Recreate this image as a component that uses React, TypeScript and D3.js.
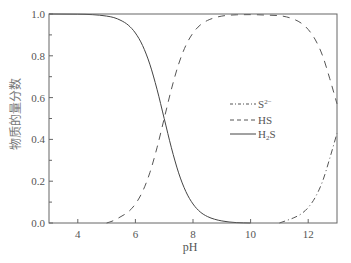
import React from "react";
import * as d3 from "d3";

const pH = [3, 4, 4.5, 5, 5.25, 5.5, 5.75, 6, 6.25, 6.5, 6.75, 7, 7.25, 7.5, 7.75, 8, 8.25, 8.5, 8.75, 9, 9.5, 10, 10.5, 11, 11.25, 11.5, 11.75, 12, 12.25, 12.5, 12.75, 13];
const h2s = [1.0, 0.999, 0.997, 0.99, 0.983, 0.969, 0.947, 0.909, 0.849, 0.76, 0.64, 0.5, 0.36, 0.24, 0.151, 0.091, 0.053, 0.031, 0.018, 0.01, 0.002, 0, null, null, null, null, null, null, null, null, null, null];
const hs = [null, null, null, 0, 0.012, 0.031, 0.053, 0.091, 0.151, 0.24, 0.36, 0.5, 0.64, 0.76, 0.849, 0.909, 0.947, 0.969, 0.982, 0.99, 0.996, 0.997, 0.995, 0.992, 0.986, 0.975, 0.957, 0.926, 0.876, 0.8, 0.69, 0.57];
const s2 = [null, null, null, null, null, null, null, null, null, null, null, null, null, null, null, null, null, null, null, null, null, null, null, 0, 0.012, 0.025, 0.043, 0.074, 0.124, 0.2, 0.31, 0.43];
const xTicks = [4, 6, 8, 10, 12];
const yTicks = [0, 0.2, 0.4, 0.6, 0.8, 1.0];
const yMinor = [0.1, 0.3, 0.5, 0.7, 0.9];

export default function App() {
  const W = 351, H = 263;
  const L = 49, R = 337, T = 14, B = 223;
  const x = d3.scaleLinear().domain([3, 13]).range([L, R]);
  const y = d3.scaleLinear().domain([0, 1]).range([B, T]);
  const mk = (vals: (number | null)[]) =>
    d3.line<number | null>()
      .defined((v) => v !== null)
      .x((_, i) => x(pH[i]))
      .y((v) => y(v as number))
      .curve(d3.curveMonotoneX)(vals) || "";
  const font = "'Liberation Serif', 'DejaVu Serif', serif";
  const ax = "#666";
  return (
    <svg width={W} height={H} style={{ position: "absolute", left: 0, top: 0, background: "#fff" }}>
      <g fill="none" strokeWidth={1}>
        <path d={mk(h2s)} stroke="#444" />
        <path d={mk(hs)} stroke="#555" strokeDasharray="7,6" />
        <path d={mk(s2)} stroke="#555" strokeDasharray="6,3,1,3" />
      </g>
      <rect x={L} y={T} width={R - L} height={B - T} fill="none" stroke={ax} strokeWidth={1} />
      {xTicks.map((t) => (
        <g key={"x" + t}>
          <line x1={x(t)} x2={x(t)} y1={B} y2={B - 4} stroke={ax} />
          <text x={x(t)} y={238} textAnchor="middle" fontFamily={font} fontSize={11} fill="#555">{t}</text>
        </g>
      ))}
      {yTicks.map((t) => (
        <g key={"y" + t}>
          <line x1={L} x2={L + 4} y1={y(t)} y2={y(t)} stroke={ax} />
          <text x={45} y={y(t) + 4} textAnchor="end" fontFamily={font} fontSize={11} fill="#555">{t.toFixed(1)}</text>
        </g>
      ))}
      {yMinor.map((t) => (
        <line key={"m" + t} x1={L} x2={L + 3} y1={y(t)} y2={y(t)} stroke={ax} />
      ))}
      <text x={190} y={251} textAnchor="middle" fontFamily={font} fontSize={12} fill="#555">pH</text>
      <text transform="translate(20,114) rotate(-90)" textAnchor="middle" fontFamily="'Noto Sans CJK SC', sans-serif" fontSize={12} fill="#777">物质的量分数</text>
      <g fontFamily={font} fontSize={11} fill="#555">
        <line x1={230} x2={256} y1={104} y2={104} stroke="#555" strokeDasharray="3,2,1,2" />
        <text x={258} y={108}>S<tspan fontSize={7} dy={-4}>2−</tspan></text>
        <line x1={230} x2={256} y1={120} y2={120} stroke="#555" strokeDasharray="4,3" />
        <text x={258} y={124}>HS</text>
        <line x1={230} x2={256} y1={134} y2={134} stroke="#444" />
        <text x={258} y={138}>H<tspan fontSize={7} dy={2}>2</tspan><tspan dy={-2}>S</tspan></text>
      </g>
    </svg>
  );
}
